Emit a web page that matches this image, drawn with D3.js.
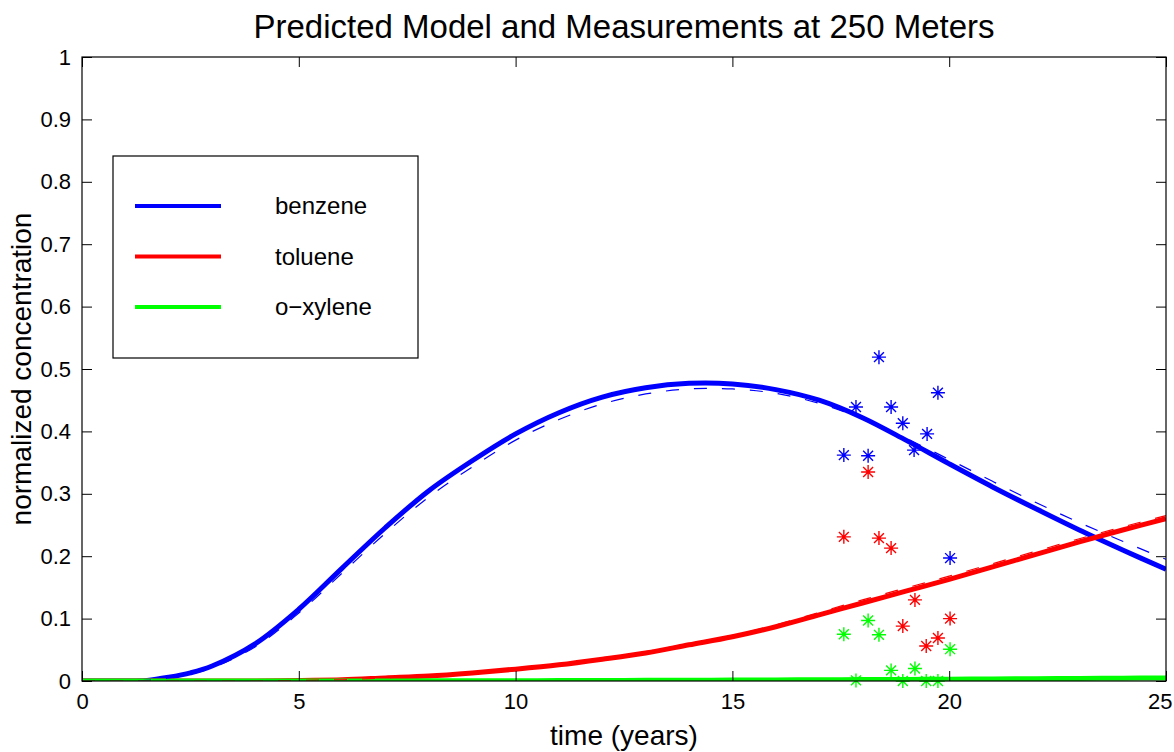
<!DOCTYPE html>
<html>
<head>
<meta charset="utf-8">
<script src="https://cdn.jsdelivr.net/npm/d3@7"></script>
<style>
  body { margin: 0; background: #fff; }
  svg text { font-family: "Liberation Sans", Arial, Helvetica, sans-serif; fill: #000; }
</style>
</head>
<body>
<div id="chart"></div>
<script>
var svgWidth = 1174;
var svgHeight = 752;

var margin = { top: 57, right: 8, bottom: 71, left: 82 };
var width = svgWidth - margin.left - margin.right;
var height = svgHeight - margin.top - margin.bottom;

// model curves (years -> normalized concentration)
var years = [0, 1, 1.5, 2, 2.5, 3, 4, 5, 6, 7, 8, 9, 10, 11, 12, 13, 14, 15, 16, 17, 18, 19, 20, 21, 22, 23, 24, 25];
var benzeneModel = [0, 0, 0.001, 0.006, 0.013, 0.024, 0.06, 0.115, 0.181, 0.246, 0.305, 0.353, 0.396, 0.43, 0.455, 0.47, 0.477, 0.476, 0.467, 0.45, 0.422, 0.386, 0.348, 0.311, 0.276, 0.242, 0.21, 0.179];
var benzeneAlt = [0, 0, 0.001, 0.005, 0.011, 0.021, 0.055, 0.109, 0.173, 0.237, 0.295, 0.343, 0.386, 0.419, 0.444, 0.46, 0.468, 0.468, 0.461, 0.445, 0.42, 0.389, 0.355, 0.32, 0.286, 0.254, 0.224, 0.195];
var tolueneModel = [0, 0, 0, 0, 0, 0, 0, 0.001, 0.002, 0.005, 0.008, 0.013, 0.019, 0.026, 0.035, 0.045, 0.058, 0.071, 0.087, 0.106, 0.125, 0.144, 0.163, 0.183, 0.203, 0.223, 0.242, 0.26];
var tolueneAlt = [0, 0, 0, 0, 0, 0, 0, 0.001, 0.002, 0.005, 0.009, 0.014, 0.02, 0.027, 0.036, 0.047, 0.06, 0.073, 0.09, 0.11, 0.13, 0.149, 0.168, 0.188, 0.208, 0.228, 0.247, 0.265];
var xyleneModel = [0, 0, 0, 0, 0, 0, 0, 0, 0, 0, 0.0003, 0.0004, 0.0005, 0.0007, 0.0009, 0.0011, 0.0013, 0.0015, 0.0018, 0.002, 0.0023, 0.0026, 0.003, 0.0033, 0.0037, 0.0041, 0.0045, 0.005];
var xyleneAlt = [0, 0, 0, 0, 0, 0, 0, 0, 0, 0, 0.0003, 0.0004, 0.0005, 0.0008, 0.001, 0.0012, 0.0014, 0.0017, 0.002, 0.0023, 0.0026, 0.003, 0.0034, 0.0038, 0.0042, 0.0047, 0.0052, 0.0057];

// measurements
var benzeneT = [17.57, 17.85, 18.13, 18.38, 18.66, 18.93, 19.19, 19.49, 19.74, 20.02];
var benzeneC = [0.362, 0.439, 0.361, 0.519, 0.439, 0.413, 0.37, 0.396, 0.462, 0.197];
var tolueneT = [17.57, 18.13, 18.38, 18.66, 18.93, 19.21, 19.47, 19.74, 20.02];
var tolueneC = [0.231, 0.335, 0.229, 0.213, 0.088, 0.13, 0.056, 0.069, 0.1];
var xyleneT = [17.57, 17.85, 18.13, 18.38, 18.66, 18.93, 19.21, 19.47, 19.74, 20.02];
var xyleneC = [0.075, 0.001, 0.097, 0.074, 0.017, 0.0, 0.02, 0.0, 0.0, 0.051];

var xTicks = [0, 5, 10, 15, 20, 25];
var yTicks = [0, 0.1, 0.2, 0.3, 0.4, 0.5, 0.6, 0.7, 0.8, 0.9, 1];

var series = [
    { name: "benzene", color: "#0000ff", model: benzeneModel, alt: benzeneAlt, t: benzeneT, c: benzeneC },
    { name: "toluene", color: "#ff0000", model: tolueneModel, alt: tolueneAlt, t: tolueneT, c: tolueneC },
    { name: "o\u2212xylene", color: "#00ff00", model: xyleneModel, alt: xyleneAlt, t: xyleneT, c: xyleneC }
];

var svg = d3.select("#chart")
    .append("svg")
    .attr("width", svgWidth)
    .attr("height", svgHeight);

var chartGroup = svg.append("g")
    .attr("transform", `translate(${margin.left}, ${margin.top})`);

var xScale = d3.scaleLinear().domain([0, 25]).range([0, width]);
var yScale = d3.scaleLinear().domain([0, 1]).range([height, 0]);

chartGroup.append("defs").append("clipPath")
    .attr("id", "plotclip")
    .append("rect")
    .attr("x", 0).attr("y", -3)
    .attr("width", width).attr("height", height + 3);

var plot = chartGroup.append("g").attr("clip-path", "url(#plotclip)");

var line = d3.line()
    .x(d => xScale(d[0]))
    .y(d => yScale(d[1]))
    .curve(d3.curveCatmullRom.alpha(0.5));

series.forEach(function(s) {
    plot.append("path")
        .datum(years.map((t, i) => [t, s.model[i]]))
        .attr("d", line)
        .attr("fill", "none")
        .attr("stroke", s.color)
        .attr("stroke-width", 5);
});

series.forEach(function(s) {
    plot.append("path")
        .datum(years.map((t, i) => [t, s.alt[i]]))
        .attr("d", line)
        .attr("fill", "none")
        .attr("stroke", s.color)
        .attr("stroke-width", 1.2)
        .attr("stroke-dasharray", "13,15");
});

// asterisk markers
var r = 7;
var d45 = r * Math.SQRT1_2;
var starPath = `M${-r},0H${r}M0,${-r}V${r}M${-d45},${-d45}L${d45},${d45}M${-d45},${d45}L${d45},${-d45}`;

series.forEach(function(s) {
    chartGroup.append("g")
        .selectAll("path")
        .data(s.t.map((t, i) => [t, s.c[i]]))
        .enter()
        .append("path")
        .attr("transform", d => `translate(${xScale(d[0])}, ${yScale(d[1])})`)
        .attr("d", starPath)
        .attr("fill", "none")
        .attr("stroke", s.color)
        .attr("stroke-width", 1.4);
});

// axes, ticks inward on all four sides
var bottomAxis = d3.axisBottom(xScale).tickValues(xTicks).tickSize(-10).tickPadding(12).tickFormat(d3.format("d"));
var topAxis = d3.axisTop(xScale).tickValues(xTicks).tickSize(-10).tickFormat("");
var leftAxis = d3.axisLeft(yScale).tickValues(yTicks).tickSize(-10).tickPadding(11).tickFormat(d => d === 0 || d === 1 ? d : d3.format(".1f")(d));
var rightAxis = d3.axisRight(yScale).tickValues(yTicks).tickSize(-10).tickFormat("");

function styleAxis(g) {
    g.select(".domain").remove();
    g.selectAll("line").attr("stroke", "#000").attr("stroke-width", 1);
    g.selectAll("text").style("font-size", "22px").attr("fill", "#000");
}

var xAxisG = chartGroup.append("g").attr("transform", `translate(0, ${height})`).call(bottomAxis).call(styleAxis);
// keep the last label inside the window
xAxisG.selectAll(".tick text").filter(d => d === 25).attr("text-anchor", "end").attr("dx", "6");
chartGroup.append("g").call(topAxis).call(styleAxis);
chartGroup.append("g").call(leftAxis).call(styleAxis);
chartGroup.append("g").attr("transform", `translate(${width}, 0)`).call(rightAxis).call(styleAxis);

chartGroup.append("rect")
    .attr("width", width)
    .attr("height", height)
    .attr("fill", "none")
    .attr("stroke", "#000")
    .attr("stroke-width", 1.2);

// legend
var legend = svg.append("g").attr("transform", "translate(113, 156)");
legend.append("rect")
    .attr("width", 305)
    .attr("height", 202)
    .attr("fill", "#fff")
    .attr("stroke", "#000")
    .attr("stroke-width", 1.2);

series.forEach(function(s, i) {
    var ly = 50 + i * 50.5;
    legend.append("line")
        .attr("x1", 22).attr("x2", 108)
        .attr("y1", ly).attr("y2", ly)
        .attr("stroke", s.color)
        .attr("stroke-width", 4);
    legend.append("text")
        .attr("x", 162)
        .attr("y", ly + 8)
        .style("font-size", "24px")
        .text(s.name);
});

// title and axis labels
svg.append("text")
    .attr("x", margin.left + width / 2)
    .attr("y", 38)
    .attr("text-anchor", "middle")
    .style("font-size", "33px")
    .text("Predicted Model and Measurements at 250 Meters");

svg.append("text")
    .attr("x", margin.left + width / 2)
    .attr("y", 745)
    .attr("text-anchor", "middle")
    .style("font-size", "28px")
    .text("time (years)");

svg.append("text")
    .attr("transform", "rotate(-90)")
    .attr("x", -(margin.top + height / 2))
    .attr("y", 31)
    .attr("text-anchor", "middle")
    .style("font-size", "28px")
    .text("normalized concentration");
</script>
</body>
</html>
